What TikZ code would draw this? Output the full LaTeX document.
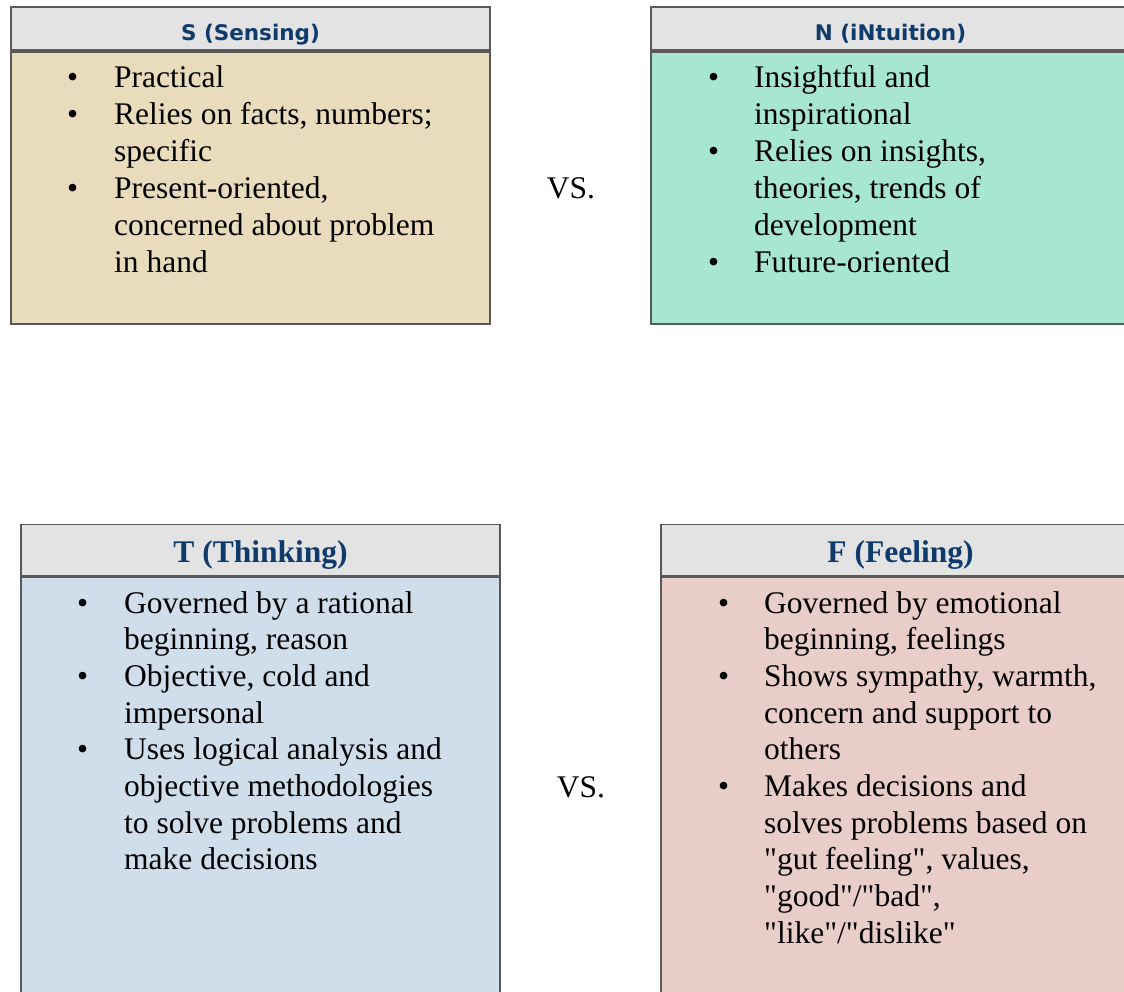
\documentclass[tikz,border=0pt]{standalone}
\usepackage{fontspec}
\setmainfont{Liberation Serif}
\newfontfamily\hdrsans{DejaVu Sans}
\usetikzlibrary{positioning}

\definecolor{hdrgray}{HTML}{E3E3E3}
\definecolor{hdrblue}{HTML}{0E3A6C}
\definecolor{boxline}{HTML}{595959}
\definecolor{senstan}{HTML}{E9DCBC}
\definecolor{intumint}{HTML}{A7E6D1}
\definecolor{thinkblue}{HTML}{D0DEEB}
\definecolor{feelpink}{HTML}{E8CDC8}

\newcommand{\bodysize}{\fontsize{31.5}{37}\selectfont}
\newcommand{\bodysizeb}{\fontsize{31.5}{36.7}\selectfont}
\newcommand{\q}[1]{\textquotedbl#1\textquotedbl}

\tikzset{
    box/.style={draw=boxline, line width=2pt, minimum width=479pt, inner sep=0pt},
    hdrtop/.style={box, fill=hdrgray, text=hdrblue, minimum height=43pt,
        text height=24pt, text depth=0pt,
        font=\hdrsans\bfseries\fontsize{21.5}{24}\selectfont},
    hdrbot/.style={box, line width=1.6pt, fill=hdrgray, text=hdrblue, minimum height=51pt,
        text height=25.4pt, text depth=0pt,
        font=\bfseries\fontsize{31.5}{37}\selectfont},
    list/.style={inner sep=0pt, anchor=base west},
    vs/.style={inner sep=0pt, anchor=base, font=\bodysize}
}

\begin{document}
\begin{tikzpicture}[x=1pt, y=-1pt]
    \useasboundingbox (0,0) rectangle (1124,991);
    \clip (0,0) rectangle (1124,991);

    % top row
    \node[hdrtop] (shead) at (250.5,28) {S (Sensing)};
    \node[box, fill=senstan, minimum height=272pt, below=0pt of shead] (sbody) {};
    \node[hdrtop] (nhead) at (890.5,28) {N (iNtuition)};
    \node[box, fill=intumint, minimum height=272pt, below=0pt of nhead] (nbody) {};

    \node[list, font=\bodysize] (slist) at (67,87) {\begin{tabular}[t]{@{}p{47pt}@{}l@{}}
        \textbullet & Practical\\
        \textbullet & Relies on facts, numbers;\\
                    & specific\\
        \textbullet & Present-oriented,\\
                    & concerned about problem\\
                    & in hand
    \end{tabular}};
    \node[list, font=\bodysize] (nlist) at (708,87) {\begin{tabular}[t]{@{}p{46pt}@{}l@{}}
        \textbullet & Insightful and\\
                    & inspirational\\
        \textbullet & Relies on insights,\\
                    & theories, trends of\\
                    & development\\
        \textbullet & Future-oriented
    \end{tabular}};
    \node[vs] (vstop) at (571,198) {VS.};

    % bottom row
    \node[hdrbot] (thead) at (260.5,550) {T (Thinking)};
    \node[box, line width=1.6pt, fill=thinkblue, minimum height=460pt, below=0pt of thead] (tbody) {};
    \node[hdrbot] (fhead) at (900.5,550) {F (Feeling)};
    \node[box, line width=1.6pt, fill=feelpink, minimum height=460pt, below=0pt of fhead] (fbody) {};

    \node[list, font=\bodysizeb] (tlist) at (77,613) {\begin{tabular}[t]{@{}p{47pt}@{}l@{}}
        \textbullet & Governed by a rational\\
                    & beginning, reason\\
        \textbullet & Objective, cold and\\
                    & impersonal\\
        \textbullet & Uses logical analysis and\\
                    & objective methodologies\\
                    & to solve problems and\\
                    & make decisions
    \end{tabular}};
    \node[list, font=\bodysizeb] (flist) at (718,613) {\begin{tabular}[t]{@{}p{46pt}@{}l@{}}
        \textbullet & Governed by emotional\\
                    & beginning, feelings\\
        \textbullet & Shows sympathy, warmth,\\
                    & concern and support to\\
                    & others\\
        \textbullet & Makes decisions and\\
                    & solves problems based on\\
                    & \q{gut feeling}, values,\\
                    & \q{good}/\q{bad},\\
                    & \q{like}/\q{dislike}
    \end{tabular}};
    \node[vs] (vsbot) at (581,797) {VS.};
\end{tikzpicture}
\end{document}
